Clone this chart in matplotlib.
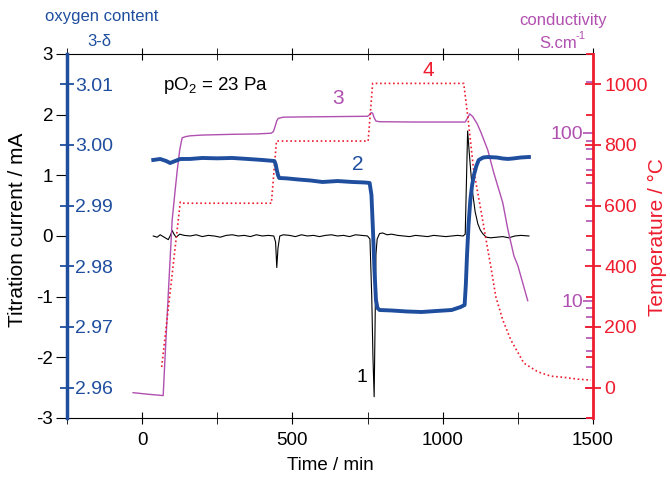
import matplotlib
matplotlib.use("Agg")
import matplotlib.pyplot as plt
from matplotlib.ticker import MultipleLocator, LogLocator, NullFormatter, FixedLocator, FormatStrFormatter, FuncFormatter

plt.rcParams['font.family'] = ['Liberation Sans', 'DejaVu Sans']
plt.rcParams['mathtext.fontset'] = 'custom'
plt.rcParams['mathtext.rm'] = 'Liberation Sans'
plt.rcParams['mathtext.it'] = 'Liberation Sans:italic'
plt.rcParams['axes.unicode_minus'] = False

BLUE = '#1f4e9e'
RED = '#ee1c2e'
PURPLE = '#b050b0'

# curve 1: titration current (mA)
cur_t = [37, 50, 60, 70, 80, 87, 95, 100, 106, 113, 125, 140, 160, 180, 200, 220, 240, 260, 280,
         300, 320, 340, 360, 380, 400, 420, 438, 444, 448, 452, 458, 470, 490, 510, 530, 550, 570,
         590, 610, 630, 650, 670, 690, 710, 730, 750, 758, 764, 768, 772, 778, 782, 790, 800, 815,
         830, 850, 870, 890, 910, 930, 950, 970, 990, 1010, 1030, 1050, 1068, 1075, 1083, 1088,
         1093, 1100, 1108, 1117, 1125, 1133, 1145, 1160, 1180, 1200, 1220, 1240, 1260, 1287]
cur_i = [0.0, -0.02, 0.02, -0.01, -0.04, -0.06, 0.02, 0.09, 0.03, -0.02, 0.03, 0.01, 0.0, 0.02, -0.01,
         0.01, 0.0, -0.02, 0.01, 0.02, 0.0, 0.01, -0.01, 0.02, 0.0, 0.01, 0.0, -0.1, -0.52, -0.2,
         0.0, 0.02, 0.01, -0.01, 0.02, 0.0, 0.01, -0.01, 0.01, 0.02, 0.0, 0.01, -0.01, 0.02, 0.01,
         0.0, -0.05, -1.0, -2.0, -2.65, -0.3, -0.05, 0.04, 0.05, 0.02, 0.03, 0.01, 0.0, -0.01, 0.01,
         0.0, -0.01, 0.01, 0.0, -0.01, 0.0, 0.01, 0.0, 0.03, 1.73, 1.4, 1.09, 0.7, 0.4, 0.2, 0.1,
         0.04, -0.02, -0.03, -0.02, -0.01, -0.03, 0.0, 0.01, 0.0]

# curve 2: oxygen content 3-delta
oxy_t = [37, 60, 80, 93, 110, 127, 160, 200, 250, 300, 350, 400, 440, 444, 448, 452, 456, 480, 520,
         560, 600, 650, 700, 740, 757, 763, 768, 773, 778, 783, 790, 830, 880, 930, 980, 1030, 1060,
         1073, 1077, 1081, 1086, 1092, 1098, 1104, 1112, 1120, 1135, 1150, 1180, 1200, 1217, 1233,
         1260, 1287]
oxy_v = [2.99753, 2.99769, 2.99736, 2.99703, 2.99736, 2.99769, 2.9977, 2.99786, 2.9978, 2.99786,
         2.9977, 2.99753, 2.99736, 2.99687, 2.99588, 2.99505, 2.99456, 2.9945, 2.99431, 2.99415,
         2.9939, 2.99406, 2.9939, 2.99382, 2.99374, 2.99176, 2.98599, 2.9794, 2.97445, 2.97313,
         2.9728, 2.97272, 2.97256, 2.97247, 2.97264, 2.9728, 2.9733, 2.97363, 2.97692, 2.98187,
         2.98681, 2.99093, 2.99341, 2.99505, 2.99654, 2.99753, 2.99794, 2.99802, 2.99794, 2.99777,
         2.9977, 2.99777, 2.99794, 2.99802]

# curve 3: conductivity (S/cm)
cond_t = [-30, 20, 70, 77, 90, 100, 110, 117, 125, 133, 145, 160, 200, 250, 300, 380, 430, 437, 443,
          448, 453, 470, 550, 650, 750, 757, 762, 767, 772, 778, 790, 900, 1000, 1075, 1083, 1090,
          1100, 1115, 1127, 1150, 1170, 1200, 1217, 1237, 1250, 1283]
cond_v = [2.83, 2.77, 2.72, 4.9, 13.9, 30.3, 45.8, 60.2, 79, 93.3, 95, 96, 97, 97.5, 98, 98.5, 99.5,
          102, 110, 118, 122, 124, 124.5, 125, 125.5, 128, 132, 131, 123, 117.5, 116.5, 116, 116,
          116, 123, 129.7, 125, 113, 101, 79, 57.8, 38.3, 26.5, 18.5, 16.2, 10]

# curve 4: temperature (C)
temp_t = [65, 127, 135, 200, 300, 400, 430, 447, 500, 600, 700, 752, 767, 800, 900, 1000, 1070,
          1083, 1103, 1127, 1143, 1160, 1177, 1200, 1227, 1270, 1317, 1360, 1403, 1450, 1493]
temp_v = [68, 612, 608, 608, 608, 608, 608, 813, 813, 813, 813, 813, 1003, 1003, 1003, 1003, 1003,
          899, 718, 586, 495, 400, 299, 223, 157, 81, 52, 38, 34, 28, 25]

fig = plt.figure(figsize=(6.7, 4.82), dpi=100)
ax = fig.add_axes([0.1, 0.1328, 0.785, 0.7552])
ax_s = ax.twinx()
ax_t = ax.twinx()
ax_o = ax.twinx()

# main axis: current
ax.plot(cur_t, cur_i, color='black', lw=0.8)
ax.set_xlim(-250, 1500)
ax.set_ylim(-3, 3)
ax.xaxis.set_major_locator(MultipleLocator(500))
ax.xaxis.set_minor_locator(MultipleLocator(250))
ax.yaxis.set_major_locator(MultipleLocator(1))
ax.tick_params(axis='x', which='both', direction='inout', length=8, top=True, labelsize=13.5, pad=6)
ax.tick_params(axis='y', direction='out', length=8, labelsize=13.5, pad=2)
ax.spines['right'].set_visible(False)
ax.spines['left'].set_visible(False)

# conductivity (log)
ax_s.plot(cond_t, cond_v, color=PURPLE, lw=1.0)
ax_s.set_yscale('log')
ax_s.set_ylim(2, 295)
for s in ['top', 'bottom', 'right']:
    ax_s.spines[s].set_visible(False)
ax_s.spines['left'].set_position(('axes', 1.0))
ax_s.spines['left'].set_visible(False)
ax_s.yaxis.set_ticks_position('left')
ax_s.yaxis.set_major_locator(FixedLocator([10, 100]))
ax_s.yaxis.set_major_formatter(FuncFormatter(lambda v, p: '%d' % v))
ax_s.yaxis.set_minor_locator(LogLocator(base=10, subs=[2, 3, 4, 5, 6, 7, 8, 9]))
ax_s.yaxis.set_minor_formatter(NullFormatter())
ax_s.tick_params(axis='y', which='major', direction='out', length=7, width=1.2, color=PURPLE,
                 labelcolor=PURPLE, labelsize=14, pad=0)
ax_s.tick_params(axis='y', which='minor', direction='out', length=5, width=1.2, color=PURPLE)

# temperature
ax_t.plot(temp_t, temp_v, color=RED, lw=1.2, linestyle=(0, (1, 1.6)))
ax_t.set_ylim(-100, 1100)
for s in ['top', 'bottom', 'left']:
    ax_t.spines[s].set_visible(False)
ax_t.spines['right'].set_color(RED)
ax_t.spines['right'].set_linewidth(2)
ax_t.yaxis.set_major_locator(MultipleLocator(200))
ax_t.yaxis.set_minor_locator(MultipleLocator(100))
ax_t.tick_params(axis='y', which='major', direction='inout', length=12, width=1.3, color=RED,
                 labelcolor=RED, labelsize=14, pad=2)
ax_t.tick_params(axis='y', which='minor', direction='in', length=5, width=1.3, color=RED)

# oxygen content
ax_o.plot(oxy_t, oxy_v, color=BLUE, lw=2.8)
ax_o.set_ylim(2.955, 3.015)
for s in ['top', 'bottom', 'left']:
    ax_o.spines[s].set_visible(False)
ax_o.spines['right'].set_position(('axes', 0.0))
ax_o.spines['right'].set_color(BLUE)
ax_o.spines['right'].set_linewidth(2.5)
ax_o.yaxis.set_major_locator(FixedLocator([2.96, 2.97, 2.98, 2.99, 3.00, 3.01]))
ax_o.yaxis.set_major_formatter(FormatStrFormatter('%.2f'))
ax_o.tick_params(axis='y', direction='inout', length=10, width=1.3, color=BLUE,
                 labelcolor=BLUE, labelsize=14, pad=1)

# labels
fig.text(18 / 670, 1 - 230 / 482, 'Titration current / mA', rotation=90, ha='center', va='center', fontsize=15)
fig.text(657 / 670, 1 - 237 / 482, 'Temperature / °C', rotation=90, ha='center', va='center',
         fontsize=15, color=RED)
fig.text(330 / 670, 1 - 465 / 482, 'Time / min', ha='center', va='center', fontsize=13.5)
fig.text(102 / 670, 1 - 17 / 482, 'oxygen content', ha='center', va='center', fontsize=12, color=BLUE)
fig.text(99 / 670, 1 - 42 / 482, '3-δ', ha='center', va='center', fontsize=12, color=BLUE)
fig.text(563 / 670, 1 - 21 / 482, 'conductivity', ha='center', va='center', fontsize=12, color=PURPLE)
fig.text(539 / 670, 1 - 43 / 482, 'S.cm', ha='left', va='center', fontsize=12, color=PURPLE)
fig.text(575 / 670, 1 - 36 / 482, '-1', ha='left', va='center', fontsize=8, color=PURPLE)
fig.text(163 / 670, 1 - 86 / 482, 'pO$_2$ = 23 Pa', ha='left', va='center', fontsize=13.5)
fig.text(362 / 670, 1 - 378 / 482, '1', ha='center', va='center', fontsize=14)
fig.text(358 / 670, 1 - 164 / 482, '2', ha='center', va='center', fontsize=15, color=BLUE)
fig.text(338 / 670, 1 - 98 / 482, '3', ha='center', va='center', fontsize=15, color=PURPLE)
fig.text(428 / 670, 1 - 71 / 482, '4', ha='center', va='center', fontsize=15, color=RED)

fig.savefig('out.png', dpi=100)
